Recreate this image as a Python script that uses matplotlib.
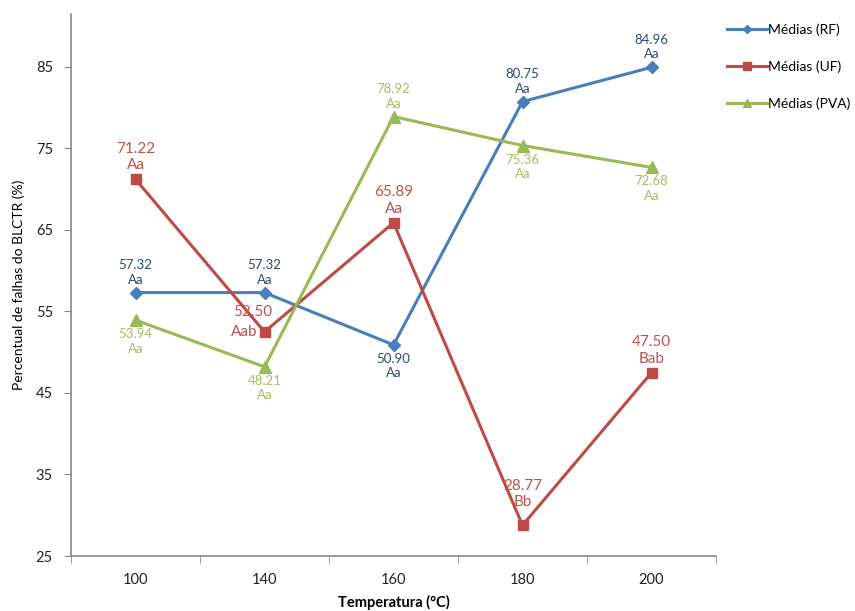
import matplotlib
matplotlib.use("Agg")
import matplotlib.pyplot as plt
import numpy as np

# data
temperatures = ["100", "140", "160", "180", "200"]
rf_values = [57.32, 57.32, 50.90, 80.75, 84.96]
uf_values = [71.22, 52.50, 65.89, 28.77, 47.50]
pva_values = [53.94, 48.21, 78.92, 75.36, 72.68]
rf_letters = ["Aa", "Aa", "Aa", "Aa", "Aa"]
uf_letters = ["Aa", "Aab", "Aa", "Bb", "Bab"]
pva_letters = ["Aa", "Aa", "Aa", "Aa", "Aa"]
y_ticks = [25, 35, 45, 55, 65, 75, 85]

plt.rcParams["font.family"] = ["Lato", "DejaVu Sans"]

fig = plt.figure(figsize=(8.55, 6.11), dpi=100)
ax = fig.add_axes([71 / 855, 1 - 556 / 611, (716 - 71) / 855, (556 - 14) / 611])

x = np.arange(len(temperatures))

series = [
    ("Médias (RF)", rf_values, rf_letters, "#4A7EBB", "#2B4A75", "D", 6, 9.5),
    ("Médias (UF)", uf_values, uf_letters, "#BE4B48", "#C0504D", "s", 7.5, 11),
    ("Médias (PVA)", pva_values, pva_letters, "#98B954", "#A3BF62", "^", 8, 9.5),
]
# where each label block sits: 1 above, 2 well above, -1 below, 0 beside
placement = {
    "Médias (RF)": [1, 1, -1, 1, 1],
    "Médias (UF)": [1, 0, 1, 2, 1],
    "Médias (PVA)": [-1, -1, 1, -1, -1],
}

handles = []
for name, vals, letters, color, tcolor, marker, ms, fs in series:
    h, = ax.plot(x, vals, color=color, lw=2.2, marker=marker, ms=ms,
                 markerfacecolor=color, markeredgecolor=color, label=name)
    handles.append(h)
    for xi, v, lt, pos in zip(x, vals, letters, placement[name]):
        txt = f"{v:.2f}\n{lt}"
        if pos > 0:
            ax.annotate(txt, (xi, v), xytext=(0, 7 if pos == 1 else 16),
                        textcoords="offset pixels", ha="center", va="bottom",
                        fontsize=fs, color=tcolor, linespacing=1.25)
        elif pos == -1:
            ax.annotate(txt, (xi, v), xytext=(0, -8), textcoords="offset pixels",
                        ha="center", va="top", fontsize=fs, color=tcolor,
                        linespacing=1.25)
        else:
            # crowded point: value above-left, letters to the left
            ax.annotate(f"{v:.2f}", (xi, v), xytext=(-12, 20), textcoords="offset pixels",
                        ha="center", va="center", fontsize=fs, color=tcolor)
            ax.annotate(lt, (xi, v), xytext=(-7, 0), textcoords="offset pixels",
                        ha="right", va="center", fontsize=fs, color=tcolor)

ax.set_xlim(-0.5, len(temperatures) - 0.5)
ax.set_ylim(25, 91.5)
ax.set_yticks(y_ticks)
ax.set_xticks(x)
ax.set_xticklabels(temperatures)
ax.set_xticks(np.arange(len(temperatures) + 1) - 0.5, minor=True)
ax.tick_params(axis="x", which="major", length=0, pad=12, labelsize=10.5, colors="#222222")
ax.tick_params(axis="x", which="minor", length=5, color="#868686", direction="out")
ax.tick_params(axis="y", length=5, color="#868686", pad=8, labelsize=10.5, labelcolor="#222222")

for s in ["top", "right"]:
    ax.spines[s].set_visible(False)
for s in ["left", "bottom"]:
    ax.spines[s].set_color("#868686")
    ax.spines[s].set_linewidth(1.2)

ax.set_xlabel("Temperatura (°C)", fontsize=10.5, fontweight="bold", labelpad=6)
ax.set_ylabel("Percentual de falhas do BLCTR (%)", fontsize=10, labelpad=8)

fig.legend(handles=handles, loc="upper left", bbox_to_anchor=(714 / 855, 1 - 11 / 611),
           frameon=False, fontsize=10, handlelength=2.9, labelspacing=1.75,
           handletextpad=0.1, markerscale=0.75)

fig.savefig("out.png", dpi=100)
